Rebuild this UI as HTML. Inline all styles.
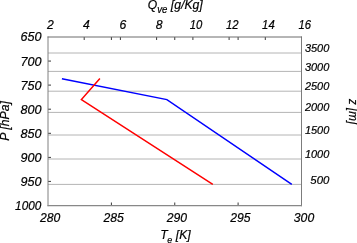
<!DOCTYPE html>
<html><head><meta charset="utf-8"><style>
html,body{margin:0;padding:0;background:#fff;width:357px;height:243px;overflow:hidden}
svg{display:block;will-change:transform}
text{font-family:"Liberation Sans",sans-serif;font-style:italic;fill:#000;stroke:#000;stroke-width:0.2px}
</style></head><body>
<svg width="357" height="243" viewBox="0 0 357 243">
<g stroke="#b4b4b4" stroke-width="1" fill="none">
<line x1="48" y1="53" x2="301.5" y2="53"/>
<line x1="48" y1="71.4" x2="301.5" y2="71.4"/>
<line x1="48" y1="91.2" x2="301.5" y2="91.2"/>
<line x1="48" y1="112.4" x2="301.5" y2="112.4"/>
<line x1="48" y1="135" x2="301.5" y2="135"/>
<line x1="48" y1="159" x2="301.5" y2="159"/>
<line x1="48" y1="184.4" x2="301.5" y2="184.4"/>
</g>
<g stroke="#3a3a3a" stroke-width="1" fill="none">
<!-- left ticks -->
<line x1="48" y1="61.07" x2="51" y2="61.07"/>
<line x1="48" y1="85.1" x2="51" y2="85.1"/>
<line x1="48" y1="109.2" x2="51" y2="109.2"/>
<line x1="48" y1="133.3" x2="51" y2="133.3"/>
<line x1="48" y1="157.4" x2="51" y2="157.4"/>
<line x1="48" y1="181.4" x2="51" y2="181.4"/>
<!-- bottom ticks -->
<line x1="111.4" y1="205.5" x2="111.4" y2="202.5"/>
<line x1="174.75" y1="205.5" x2="174.75" y2="202.5"/>
<line x1="238.1" y1="205.5" x2="238.1" y2="202.5"/>
<!-- top ticks (T mirrored) -->
<line x1="111.4" y1="37" x2="111.4" y2="40"/>
<line x1="174.75" y1="37" x2="174.75" y2="40"/>
<line x1="238.1" y1="37" x2="238.1" y2="40"/>
<!-- top ticks Q -->
<line x1="84.2" y1="37" x2="84.2" y2="40"/>
<line x1="120.4" y1="37" x2="120.4" y2="40"/>
<line x1="156.6" y1="37" x2="156.6" y2="40"/>
<line x1="192.9" y1="37" x2="192.9" y2="40"/>
<line x1="229.1" y1="37" x2="229.1" y2="40"/>
<line x1="265.3" y1="37" x2="265.3" y2="40"/>
</g>
<g fill="none">
<line x1="48" y1="36.5" x2="48" y2="206.2" stroke="#808080" stroke-width="1"/>
<line x1="301.5" y1="36.5" x2="301.5" y2="206.2" stroke="#7c7c7c" stroke-width="1"/>
<line x1="47.5" y1="37" x2="302" y2="37" stroke="#6c6c6c" stroke-width="1"/>
<line x1="47.5" y1="205.6" x2="302" y2="205.6" stroke="#888" stroke-width="1.2"/>
</g>
<polyline points="61.9,78.7 166.9,99.6 291.8,184.3" fill="none" stroke="#0000ff" stroke-width="1.5" stroke-linejoin="miter"/>
<polyline points="99.9,78.5 81.4,99.6 212.8,184.3" fill="none" stroke="#ff0000" stroke-width="1.5" stroke-linejoin="miter"/>
<!-- left labels -->
<g font-size="12.6" text-anchor="end">
<text x="41.5" y="41">650</text>
<text x="41.5" y="65.7">700</text>
<text x="41.5" y="89.7">750</text>
<text x="41.5" y="113.8">800</text>
<text x="41.5" y="137.9">850</text>
<text x="41.5" y="162">900</text>
<text x="41.5" y="186">950</text>
<text x="41.3" y="209.7" textLength="26.2" lengthAdjust="spacingAndGlyphs">1000</text>
</g>
<!-- bottom labels -->
<g font-size="12.2" text-anchor="middle">
<text x="50.2" y="221.8">280</text>
<text x="113.6" y="221.8">285</text>
<text x="176.9" y="221.8">290</text>
<text x="240.3" y="221.8">295</text>
<text x="304" y="221.8">300</text>
</g>
<!-- top labels -->
<g font-size="12.2" text-anchor="middle">
<text x="50.4" y="28.5">2</text>
<text x="86.5" y="28.5">4</text>
<text x="122.8" y="28.5">6</text>
<text x="159.1" y="28.5">8</text>
<text x="196" y="28.5" textLength="12.6" lengthAdjust="spacingAndGlyphs">10</text>
<text x="232.3" y="28.5" textLength="12.6" lengthAdjust="spacingAndGlyphs">12</text>
<text x="268.4" y="28.5" textLength="12.6" lengthAdjust="spacingAndGlyphs">14</text>
<text x="304.7" y="28.5" textLength="12.6" lengthAdjust="spacingAndGlyphs">16</text>
</g>
<!-- right labels -->
<g font-size="10.6" text-anchor="end">
<text x="329.3" y="52" textLength="24.4" lengthAdjust="spacingAndGlyphs">3500</text>
<text x="329.3" y="70.5" textLength="24.4" lengthAdjust="spacingAndGlyphs">3000</text>
<text x="329.3" y="90.3" textLength="24.4" lengthAdjust="spacingAndGlyphs">2500</text>
<text x="329.3" y="111.2" textLength="24.4" lengthAdjust="spacingAndGlyphs">2000</text>
<text x="329.3" y="133.8" textLength="24.4" lengthAdjust="spacingAndGlyphs">1500</text>
<text x="329.3" y="157.8" textLength="24.4" lengthAdjust="spacingAndGlyphs">1000</text>
<text x="329.3" y="183.5" textLength="19" lengthAdjust="spacingAndGlyphs">500</text>
</g>
<!-- titles -->
<text font-size="12.2" x="147.8" y="9.2">Q<tspan font-size="10.4" dy="3.3" textLength="10.2" lengthAdjust="spacingAndGlyphs">ve</tspan><tspan dy="-3.3"> [g/Kg]</tspan></text>
<text font-size="12.2" x="160.3" y="238.9">T<tspan font-size="9" dx="-0.4" dy="3.8">e</tspan><tspan dy="-3.8"> [K]</tspan></text>
<text font-size="12.2" transform="translate(9.3,140.7) rotate(-90)">P [hPa]</text>
<text font-size="12.2" transform="translate(349,99) rotate(90)" textLength="25.2" lengthAdjust="spacingAndGlyphs">z [m]</text>
</svg>
</body></html>
